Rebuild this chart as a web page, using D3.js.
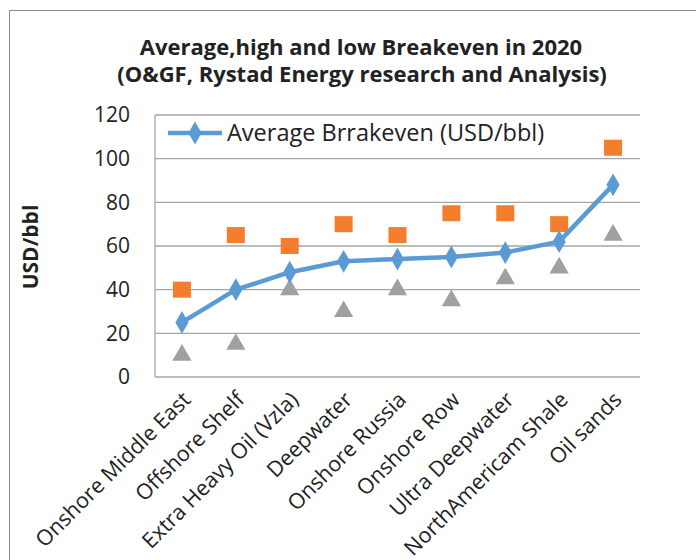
<!DOCTYPE html>
<html>
<head>
<meta charset="utf-8">
<script src="https://cdn.jsdelivr.net/npm/d3@7"></script>
<style>
  body { margin: 0; background: #fff; }
  text { font-family: "Open Sans", "Noto Sans", sans-serif; fill: #222; }
</style>
</head>
<body>
<div id="chart"></div>
<script>
// data
const categories = ["Onshore Middle East", "Offshore Shelf", "Extra Heavy Oil (Vzla)", "Deepwater",
  "Onshore Russia", "Onshore Row", "Ultra Deepwater", "NorthAmericam Shale", "Oil sands"];
const averageBreakeven = [25, 40, 48, 53, 54, 55, 57, 62, 88];
const highBreakeven = [40, 65, 60, 70, 65, 75, 75, 70, 105];
const lowBreakeven = [10, 15, 40, 30, 40, 35, 45, 50, 65];
const yTicks = [0, 20, 40, 60, 80, 100, 120];

const width = 696, height = 560;
const margin = {top: 115, right: 56, bottom: 183, left: 155};

const svg = d3.select("#chart").append("svg")
  .attr("width", width)
  .attr("height", height);

// outer frame
svg.append("rect")
  .attr("x", 9.5).attr("y", 10.5)
  .attr("width", 700).attr("height", 560)
  .attr("fill", "none")
  .attr("stroke", "#8c8c8c");

// scales
const x = d3.scaleBand()
  .domain(categories)
  .range([margin.left, width - margin.right]);

const y = d3.scaleLinear()
  .domain([0, 120])
  .range([height - margin.bottom, margin.top]);

const cx = d => x(d) + x.bandwidth() / 2;

// gridlines
svg.append("g")
  .selectAll("line")
  .data(yTicks)
  .enter().append("line")
  .attr("x1", margin.left)
  .attr("x2", width - margin.right)
  .attr("y1", d => y(d))
  .attr("y2", d => y(d))
  .attr("stroke", "#a6a6a6")
  .attr("stroke-width", 1.3);

svg.append("line")
  .attr("x1", margin.left).attr("x2", margin.left)
  .attr("y1", y(120)).attr("y2", y(0))
  .attr("stroke", "#a6a6a6")
  .attr("stroke-width", 1.3);

// y axis
const yAxis = d3.axisLeft(y).tickValues(yTicks).tickSize(0).tickPadding(0);
const yg = svg.append("g")
  .attr("transform", "translate(" + (margin.left - 25) + ",0)")
  .call(yAxis);
yg.select(".domain").remove();
yg.selectAll("text")
  .style("font-size", "21px")
  .attr("fill", "#222");

// x axis labels
const xAxis = d3.axisBottom(x).tickSize(0).tickPadding(0);
const xg = svg.append("g")
  .attr("transform", "translate(0," + y(0) + ")")
  .call(xAxis);
xg.select(".domain").remove();
xg.selectAll("text")
  .style("font-size", "21.5px")
  .attr("fill", "#222")
  .style("text-anchor", "end")
  .attr("y", 0)
  .attr("dy", 0)
  .attr("transform", "translate(10,24) rotate(-45)");

// title
const title = svg.append("text")
  .attr("text-anchor", "middle")
  .style("font-size", "22px")
  .style("font-weight", "bold");
title.append("tspan").attr("x", 361).attr("y", 55).text("Average,high and low Breakeven in 2020");
title.append("tspan").attr("x", 362).attr("y", 82).text("(O&GF, Rystad Energy research and Analysis)");

// y label
svg.append("text")
  .attr("transform", "translate(38,247) rotate(-90)")
  .attr("text-anchor", "middle")
  .style("font-size", "21px")
  .style("font-weight", "bold")
  .text("USD/bbl");

// high: orange squares
svg.append("g")
  .selectAll("rect")
  .data(categories)
  .enter().append("rect")
  .attr("x", (d) => cx(d) - 9)
  .attr("y", (d, i) => y(highBreakeven[i]) - 8)
  .attr("width", 18)
  .attr("height", 16)
  .attr("fill", "#f47d2e");

// low: grey triangles
const tri = d3.symbol().type(d3.symbolTriangle).size(160);
svg.append("g")
  .selectAll("path")
  .data(categories)
  .enter().append("path")
  .attr("d", tri)
  .attr("transform", (d, i) => "translate(" + cx(d) + "," + y(lowBreakeven[i]) + ")")
  .attr("fill", "#a0a0a0");

// average line
const line = d3.line()
  .x((d, i) => cx(categories[i]))
  .y(d => y(d));

svg.append("path")
  .datum(averageBreakeven)
  .attr("d", line)
  .attr("fill", "none")
  .attr("stroke", "#5b9bd5")
  .attr("stroke-width", 4.5)
  .attr("stroke-linejoin", "round");

const diamond = d3.symbol().type(d3.symbolDiamond).size(150);
svg.append("g")
  .selectAll("path")
  .data(averageBreakeven)
  .enter().append("path")
  .attr("d", diamond)
  .attr("transform", (d, i) => "translate(" + cx(categories[i]) + "," + y(d) + ")")
  .attr("fill", "#5b9bd5");

// legend
const lg = svg.append("g").attr("transform", "translate(168,133)");
lg.append("line")
  .attr("x1", 0).attr("x2", 54)
  .attr("stroke", "#5b9bd5").attr("stroke-width", 4.5);
lg.append("path")
  .attr("d", diamond)
  .attr("transform", "translate(27,0)")
  .attr("fill", "#5b9bd5");
lg.append("text")
  .attr("x", 59)
  .attr("dy", "0.35em")
  .style("font-size", "23.5px")
  .text("Average Brrakeven (USD/bbl)");
</script>
</body>
</html>
